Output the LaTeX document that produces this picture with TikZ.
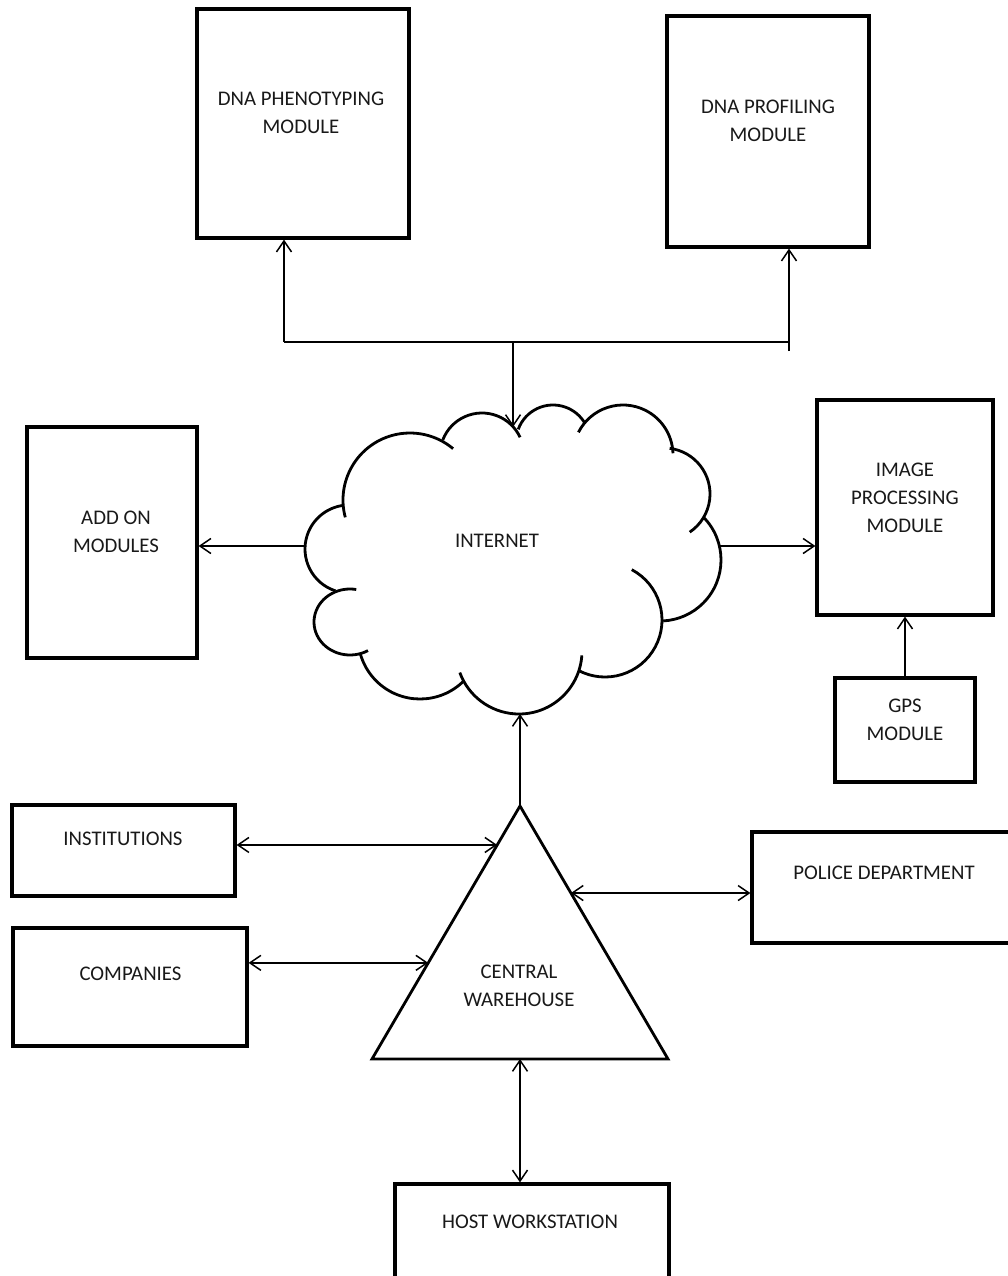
\documentclass[tikz,border=0pt]{standalone}
\usepackage{fontspec}
\setmainfont{Carlito}
\usetikzlibrary{arrows.meta,calc}
\begin{document}
\begin{tikzpicture}[x=1pt,y=-1pt,
  box/.style={draw, line width=3.2pt, inner sep=0pt},
  lbl/.style={font=\fontsize{20.8}{28}\selectfont, align=center, text=black!90, inner sep=0pt},
  conn/.style={line width=1.5pt},
  arr/.style={conn, -{Straight Barb[length=11pt,width=15pt]}},
  dbl/.style={conn, {Straight Barb[length=11pt,width=15pt]}-{Straight Barb[length=11pt,width=15pt]}},
  cloudline/.style={line width=2.8pt},
  triline/.style={line width=2.8pt, line join=miter}
]
\useasboundingbox (0,0) rectangle (1008,1276);
\fill[white] (0,0) rectangle (1008,1276);
\clip (0,0) rectangle (1008,1276);

% ---- boxes ----
\node[box, minimum width=212pt, minimum height=229pt] (phen) at (303,123.5) {};
\node[lbl] (phentext) at (301,113) {DNA PHENOTYPING\\MODULE};

\node[box, minimum width=202pt, minimum height=231pt] (prof) at (768,131.5) {};
\node[lbl] (proftext) at (768,121) {DNA PROFILING\\MODULE};

\node[box, minimum width=170pt, minimum height=231pt] (addon) at (112,542.5) {};
\node[lbl] (addontext) at (116,532) {ADD ON\\MODULES};

\node[box, minimum width=176pt, minimum height=215pt] (img) at (905,507.5) {};
\node[lbl] (imgtext) at (905,498) {IMAGE\\PROCESSING\\MODULE};

\node[box, minimum width=140pt, minimum height=104pt] (gps) at (905,730) {};
\node[lbl] (gpstext) at (905,720) {GPS\\MODULE};

\node[box, minimum width=223pt, minimum height=91pt] (inst) at (123.5,850.5) {};
\node[lbl] (insttext) at (123,839) {INSTITUTIONS};

\node[box, minimum width=234pt, minimum height=118pt] (comp) at (130,987) {};
\node[lbl] (comptext) at (130.5,974) {COMPANIES};

\node[box, minimum width=260pt, minimum height=111pt] (pol) at (882,887.5) {};
\node[lbl] (poltext) at (884,873) {POLICE DEPARTMENT};

\node[box, minimum width=274pt, minimum height=120pt] (host) at (532,1244) {};
\node[lbl] (hosttext) at (530,1222) {HOST WORKSTATION};

% ---- triangle (central warehouse) ----
\coordinate (apex) at (520,806);
\coordinate (tbl) at (372,1059);
\coordinate (tbr) at (668,1059);
\draw[triline] (apex) -- (tbl) -- (tbr) -- cycle;
\node[lbl] (cwtext) at (519,986) {CENTRAL\\WAREHOUSE};
\coordinate (tl1) at ($(apex)!0.154!(tbl)$);
\coordinate (tl2) at ($(apex)!0.62!(tbl)$);
\coordinate (tr1) at ($(apex)!0.344!(tbr)$);
\coordinate (tbase) at ($(tbl)!0.5!(tbr)$);

% ---- cloud (internet) ----
\begin{scope}[cloudline]
\draw (349,549) ++(108:44) arc[start angle=108, end angle=262, radius=44];
\draw (410,500) ++(165:67) arc[start angle=165, end angle=310, radius=67];
\draw (482,455) ++(201:42) arc[start angle=201, end angle=335, radius=42];
\draw (553,442) ++(200:37) arc[start angle=200, end angle=329, radius=37];
\draw (623,455) ++(207:50) arc[start angle=207, end angle=358, radius=50];
\draw (664,494) ++(277:46) arc[start angle=277, end angle=416, radius=46];
\draw (660,560) ++(315:61) arc[start angle=315, end angle=447, radius=61];
\draw (605,620) ++(298:57) arc[start angle=298, end angle=478, radius=57];
\draw (519,651) ++(4:63) arc[start angle=4, end angle=160, radius=63];
\draw (420,637) ++(45:62) arc[start angle=45, end angle=165, radius=62];
\draw (350,622) ++(60:36 and 33) arc[start angle=60, end angle=280, x radius=36, y radius=33];
\end{scope}
\node[lbl] (inet) at (497,541) {INTERNET};
\coordinate (ctop) at (513,427);
\coordinate (cleft) at (305,546);
\coordinate (cright) at (719,546);
\coordinate (cbottom) at (520,714);

% ---- top distribution bar ----
\coordinate (bar) at (513,342);
\coordinate (barL) at (284,342);
\coordinate (barR) at (789,342);
\coordinate (barRlow) at (789,351);
\draw[conn] (barL) -- (barR);
\draw[arr] (bar) -- (ctop);
\draw[arr] (barL) -- (barL |- phen.south);
\draw[arr] (barRlow) -- (barRlow |- prof.south);

% ---- cloud side links ----
\draw[arr] (cleft) -- (cleft -| addon.east);
\draw[arr] (cright) -- (cright -| img.west);
\draw[arr] (gps.north) -- (img.south);
\draw[arr] (apex) -- (cbottom);

% ---- warehouse links ----
\draw[dbl] (tl1 -| inst.east) -- (tl1);
\draw[dbl] (tl2 -| comp.east) -- (tl2);
\draw[dbl] (tr1) -- (tr1 -| pol.west);
\draw[dbl] (tbase) -- (tbase |- host.north);
\end{tikzpicture}
\end{document}
